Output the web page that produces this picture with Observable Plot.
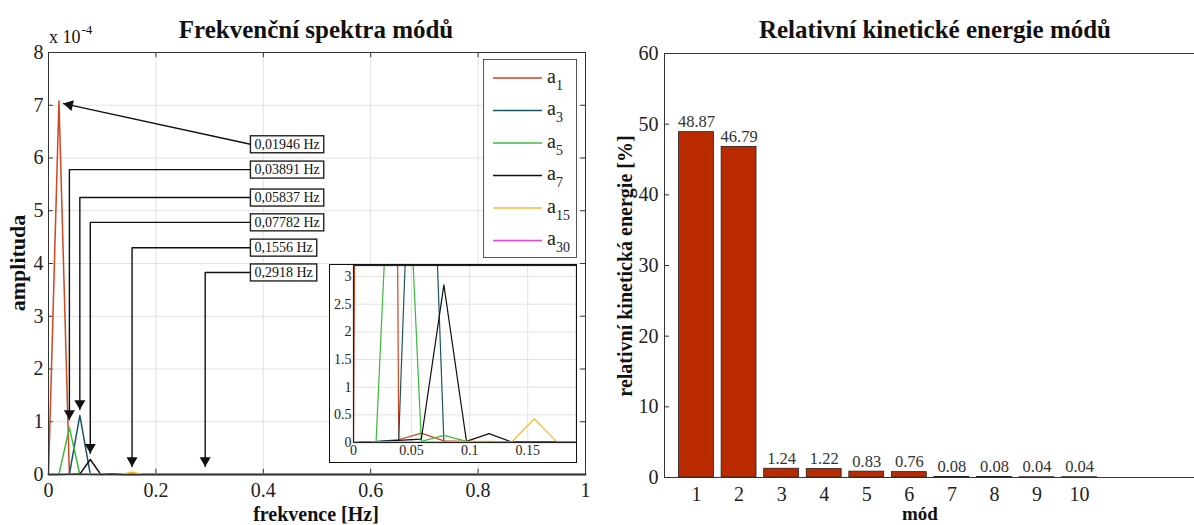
<!DOCTYPE html>
<html><head><meta charset="utf-8">
<script src="https://cdn.jsdelivr.net/npm/d3@7"></script>
<script src="https://cdn.jsdelivr.net/npm/@observablehq/plot@0.6"></script>
<style>
body{margin:0;background:#fff;}
#c{position:relative;width:1194px;height:525px;overflow:hidden;font-family:"Liberation Serif","Times New Roman",serif;color:#111;background:#fff;}
.t{position:absolute;white-space:nowrap;transform:translate(-50%,-50%);line-height:1;}
.b{font-weight:bold;}
.abs{position:absolute;}
</style></head><body><div id="c"></div>
<script>
// ---------- DATA ----------
// frequency grid [Hz]
const freq = [0, 0.01946, 0.03891, 0.05837, 0.07782, 0.09728, 0.1167, 0.1362, 0.1556, 0.1751, 0.1946, 0.2140, 0.2335, 0.2529, 0.2724, 0.2918, 0.3113, 0.3307, 1.0];
const seriesNames = ["a1", "a3", "a5", "a7", "a15", "a30"];
const seriesSubs = ["1", "3", "5", "7", "15", "30"];
const seriesColors = ["#d2451e", "#1a5566", "#3db83d", "#111111", "#ffb830", "#ee40d8"];
// amplitudes in units of 1e-5
const a1  = [0, 70.8, 0.05, 0.17, 0.03, 0.02, 0.01, 0.01, 0.01, 0.01, 0.01, 0.01, 0.01, 0.01, 0.01, 0.01, 0.01, 0.01, 0.01];
const a3  = [0, 0.02, 0.05, 11.2, 0.02, 0.01, 0.01, 0.01, 0.01, 0.01, 0.01, 0.01, 0.01, 0.01, 0.01, 0.01, 0.01, 0.01, 0.01];
const a5  = [0, 0.02, 8.9, 0.02, 0.13, 0.02, 0.01, 0.01, 0.01, 0.01, 0.01, 0.01, 0.01, 0.01, 0.01, 0.01, 0.01, 0.01, 0.01];
const a7  = [0, 0.01, 0.04, 0.06, 2.85, 0.02, 0.16, 0.01, 0.01, 0.01, 0.01, 0.01, 0.01, 0.01, 0.01, 0.01, 0.01, 0.01, 0.01];
const a15 = [0, 0.01, 0.01, 0.01, 0.01, 0.02, 0.02, 0.01, 0.43, 0.01, 0.01, 0.01, 0.01, 0.01, 0.01, 0.01, 0.01, 0.01, 0.01];
const a30 = [0, 0, 0, 0, 0, 0, 0.005, 0.005, 0.005, 0.005, 0.005, 0.01, 0.01, 0.01, 0.015, 0.03, 0.01, 0.005, 0];
const seriesValues = [a1, a3, a5, a7, a15, a30];

// annotations (peak frequencies)
const annotLabels = ["0,01946 Hz", "0,03891 Hz", "0,05837 Hz", "0,07782 Hz", "0,1556 Hz", "0,2918 Hz"];
const annotTipX = [0.028, 0.03891, 0.05837, 0.07782, 0.1556, 0.2918];
const annotTipY = [7.03, 1.04, 1.23, 0.40, 0.15, 0.15]; // ×1e-4

// tick labels
const xTicksL = [0, 0.2, 0.4, 0.6, 0.8, 1];
const yTicksL = [0, 1, 2, 3, 4, 5, 6, 7, 8];
const xTicksIn = [0, 0.05, 0.1, 0.15];
const yTicksIn = [0, 0.5, 1, 1.5, 2, 2.5, 3];

// kinetic energy per mode [%]
const modes = [1, 2, 3, 4, 5, 6, 7, 8, 9, 10];
const energy = [48.87, 46.79, 1.24, 1.22, 0.83, 0.76, 0.08, 0.08, 0.04, 0.04];
const yTicksR = [0, 10, 20, 30, 40, 50, 60];

// ---------- BUILD ----------
const C = document.getElementById("c");
const FONT = '"Liberation Serif", "Times New Roman", serif';

const long = [];
seriesNames.forEach((s, si) => seriesValues[si].forEach((v, i) => long.push({s, f: freq[i], v})));

// annotation layout (in data coordinates)
const boxX = 0.376;
const boxY = [6.26, 5.78, 5.25, 4.78, 4.30, 3.83];
const conn = [];
annotLabels.forEach((lab, i) => {
  conn.push({k: i, x: boxX, y: boxY[i]});
  if (i > 0) conn.push({k: i, x: annotTipX[i], y: boxY[i]});
  conn.push({k: i, x: annotTipX[i], y: annotTipY[i]});
});
const annots = annotLabels.map((lab, i) => ({lab, bx: boxX, by: boxY[i], tx: annotTipX[i], ty: annotTipY[i]}));

const colorScale = {domain: seriesNames, range: seriesColors};

const left = Plot.plot({
  width: 600, height: 525,
  marginLeft: 48, marginRight: 15, marginTop: 52, marginBottom: 51,
  x: {domain: [0, 1], label: null},
  y: {domain: [0, 8], label: null},
  color: colorScale,
  style: {fontFamily: FONT, fontSize: "19px", color: "#222", background: "transparent"},
  marks: [
    Plot.gridX(xTicksL, {stroke: "#e2e2e2", strokeOpacity: 1}),
    Plot.gridY(yTicksL, {stroke: "#e2e2e2", strokeOpacity: 1}),
    Plot.axisX(xTicksL, {tickSize: 0, tickPadding: 8, fontSize: 20, tickFormat: d => String(d), label: null}),
    Plot.axisY(yTicksL, {tickSize: 0, tickPadding: 5, fontSize: 20, tickFormat: d => String(d), label: null}),
    Plot.ruleX(xTicksL, {x: d => d, y1: () => 0, y2: () => 0.1, stroke: "#333"}),
    Plot.ruleX(xTicksL, {x: d => d, y1: () => 7.9, y2: () => 8, stroke: "#333"}),
    Plot.ruleY(yTicksL, {y: d => d, x1: () => 0, x2: () => 0.009, stroke: "#333"}),
    Plot.ruleY(yTicksL, {y: d => d, x1: () => 0.991, x2: () => 1, stroke: "#333"}),
    Plot.line(long, {x: "f", y: d => d.v / 10, z: "s", stroke: "s", strokeWidth: 1.5}),
    Plot.line(conn, {x: "x", y: "y", z: "k", stroke: "#111", strokeWidth: 1.4}),
    Plot.dot(annots.slice(1), {x: "tx", y: "ty", symbol: "triangle", r: 4.1, rotate: 180, fill: "#111", stroke: "none", dy: -6.2}),
    Plot.dot(annots.slice(0, 1), {x: "tx", y: "ty", symbol: "triangle", r: 4.1, rotate: -77.6, fill: "#111", stroke: "none", dx: 6.0, dy: 1.3}),
    Plot.text(annots, {x: "bx", y: "by", text: "lab", textAnchor: "start", dx: 4, fontSize: 14, fill: "#111"}),
    Plot.frame({stroke: "#333"})
  ]
});
left.style.position = "absolute"; left.style.left = "0px"; left.style.top = "0px";
C.appendChild(left);
// boxes behind annotation labels
left.querySelectorAll("text").forEach(t => {
  if (/^\d,\d+ Hz$/.test(t.textContent)) {
    const b = t.getBBox();
    const r = document.createElementNS("http://www.w3.org/2000/svg", "rect");
    r.setAttribute("x", b.x - 4); r.setAttribute("y", b.y - 1);
    r.setAttribute("width", b.width + 8); r.setAttribute("height", b.height + 2);
    const tr = t.getAttribute("transform"); if (tr) r.setAttribute("transform", tr);
    r.setAttribute("fill", "#fff"); r.setAttribute("stroke", "#222"); r.setAttribute("stroke-width", "1.4");
    t.parentNode.insertBefore(r, t);
  }
});

// legend
const lg = d3.select(C).append("svg").attr("class", "abs")
  .style("left", "483px").style("top", "59px").attr("width", 95).attr("height", 200);
lg.append("rect").attr("x", 0.5).attr("y", 0.5).attr("width", 93).attr("height", 198).attr("fill", "#fff").attr("stroke", "#555");
seriesNames.forEach((s, i) => {
  const y = 19 + 32.5 * i;
  lg.append("line").attr("x1", 10).attr("x2", 59).attr("y1", y).attr("y2", y).attr("stroke", seriesColors[i]).attr("stroke-width", 1.5);
  const tx = lg.append("text").attr("x", 64).attr("y", y + 4.5).attr("font-family", FONT).attr("font-size", 20).attr("fill", "#222").text("a");
  tx.append("tspan").attr("font-size", 14).attr("dy", 7).text(seriesSubs[i]);
});

// inset
const inset = d3.select(C).append("div").attr("class", "abs")
  .style("left", "329px").style("top", "264px").style("width", "248px").style("height", "199px").style("background", "#fff");
const ins = Plot.plot({
  width: 248, height: 199,
  marginLeft: 24, marginRight: 1, marginTop: 1, marginBottom: 21,
  x: {domain: [0, 0.192], label: null},
  y: {domain: [0, 3.2], label: null},
  color: colorScale,
  style: {fontFamily: FONT, fontSize: "13px", color: "#222", background: "#fff"},
  marks: [
    Plot.gridX(xTicksIn, {stroke: "#e2e2e2", strokeOpacity: 1}),
    Plot.gridY(yTicksIn, {stroke: "#e2e2e2", strokeOpacity: 1}),
    Plot.axisX(xTicksIn, {tickSize: 0, tickPadding: 3, fontSize: 14, tickFormat: d => String(d), label: null}),
    Plot.axisY(yTicksIn, {tickSize: 0, tickPadding: 2, fontSize: 14, tickFormat: d => String(d), label: null}),
    Plot.line(long, {x: "f", y: "v", z: "s", stroke: "s", strokeWidth: 1.2, clip: true}),
    Plot.frame({stroke: "#222", strokeWidth: 1.2})
  ]
});
inset.node().appendChild(ins);
d3.select(C).append("div").attr("class", "abs")
  .style("left", "329px").style("top", "264px").style("width", "248px").style("height", "199px")
  .style("box-sizing", "border-box").style("border", "1.6px solid #111");

// right chart
const xDomR = [0.248, 12.70];
const bars = modes.map((m, i) => ({m, v: energy[i]}));
const right = Plot.plot({
  width: 594, height: 525,
  marginLeft: 64, marginRight: 0, marginTop: 53, marginBottom: 48,
  x: {domain: xDomR, label: null},
  y: {domain: [0, 60], label: null},
  style: {fontFamily: FONT, fontSize: "19px", color: "#222", background: "transparent"},
  marks: [
    Plot.rectY(bars, {x1: d => d.m - 0.41, x2: d => d.m + 0.41, y: "v", fill: "#b92a00", stroke: "#222", strokeWidth: 0.8}),
    Plot.text(bars, {x: "m", y: "v", text: d => d.v.toFixed(2), dy: -5, lineAnchor: "bottom", fontSize: 16.5, fill: "#333"}),
    Plot.axisX(modes, {tickSize: 0, tickPadding: 9, fontSize: 20, tickFormat: d => String(d), label: null}),
    Plot.axisY(yTicksR, {tickSize: 0, tickPadding: 6, fontSize: 20, tickFormat: d => String(d), label: null}),
    Plot.ruleY(yTicksR, {y: d => d, x1: () => xDomR[0], x2: () => xDomR[0] + 0.12, stroke: "#333"}),
    Plot.ruleY([0, 60], {stroke: "#333"}),
    Plot.ruleX([xDomR[0]], {stroke: "#333"})
  ]
});
right.style.position = "absolute"; right.style.left = "600px"; right.style.top = "0px";
C.appendChild(right);

// titles & labels
function addText(txt, x, y, cls, size, rot) {
  const d = document.createElement("div");
  d.className = "t " + (cls || "");
  d.style.left = x + "px"; d.style.top = y + "px"; d.style.fontSize = size + "px";
  if (rot) d.style.transform = "translate(-50%,-50%) rotate(-90deg)";
  d.innerHTML = txt;
  C.appendChild(d);
}
addText("Frekvenční spektra módů", 316, 29, "b", 25);
addText("Relativní kinetické energie módů", 935, 29, "b", 25);
addText("amplituda", 18, 263, "b", 22, true);
addText("frekvence [Hz]", 316, 514, "b", 20);
addText("relativní kinetická energie [%]", 625, 266, "b", 20, true);
addText("mód", 920, 513, "b", 19);
const ex = document.createElement("div");
ex.className = "abs"; ex.style.left = "49px"; ex.style.top = "28px"; ex.style.fontSize = "18px"; ex.style.lineHeight = "1";
ex.innerHTML = 'x 10<span style="font-size:13px;position:relative;top:-9px;margin-left:1px">-4</span>';
C.appendChild(ex);
</script></body></html>
